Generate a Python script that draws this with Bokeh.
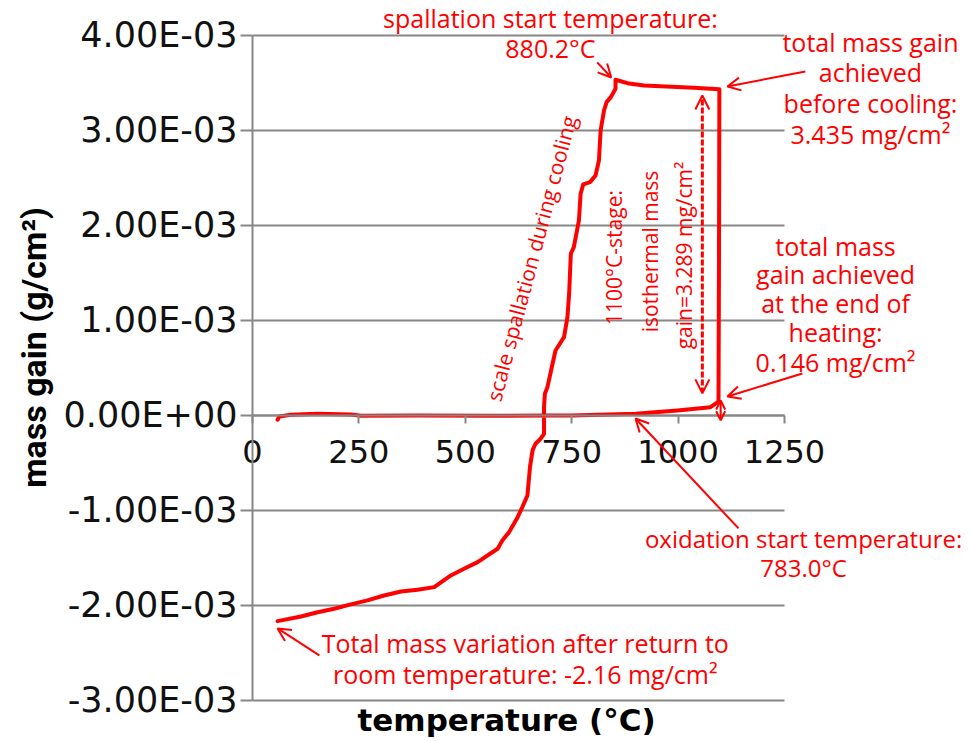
import math
from bokeh.plotting import figure
from bokeh.models import (Range1d, LinearAxis, FixedTicker, Label, Arrow, OpenHead,
                          CustomJSTickFormatter)
from bokeh.embed import file_html
from bokeh.resources import INLINE

# ---------------- data ----------------
temperature = [59, 63, 90, 153, 231, 255, 388, 544, 701, 750, 900, 998, 1076, 1095,
               1096, 1097,
               1037, 920, 881, 853,
               853, 842, 832, 826, 818, 814, 806, 793, 777, 771, 767, 755, 748, 744,
               740, 732, 712, 705, 693, 687, 685, 685, 677, 665, 658, 652, 646, 634,
               623, 603, 587, 576, 552, 529, 497, 466, 427, 388, 349, 309, 270, 231,
               192, 153, 114, 59]
mass_gain = [-0.045e-3, -0.011e-3, 0.007e-3, 0.018e-3, 0.011e-3, -0.003e-3, 0.0, -0.003e-3,
             0.0, 0.0, 0.018e-3, 0.053e-3, 0.087e-3, 0.146e-3,
             1.500e-3, 3.435e-3,
             3.449e-3, 3.474e-3, 3.498e-3, 3.534e-3,
             3.439e-3, 3.351e-3, 3.298e-3, 3.211e-3, 3.000e-3, 2.684e-3, 2.526e-3,
             2.456e-3, 2.432e-3, 2.334e-3, 2.053e-3, 1.772e-3, 1.702e-3, 1.281e-3,
             1.035e-3, 0.824e-3, 0.684e-3, 0.544e-3, 0.298e-3, 0.228e-3, 0.087e-3,
             -0.193e-3, -0.245e-3, -0.298e-3, -0.368e-3, -0.544e-3, -0.842e-3,
             -0.965e-3, -1.071e-3, -1.228e-3, -1.316e-3, -1.403e-3, -1.474e-3,
             -1.544e-3, -1.614e-3, -1.684e-3, -1.807e-3, -1.835e-3, -1.853e-3,
             -1.895e-3, -1.947e-3, -1.989e-3, -2.035e-3, -2.071e-3, -2.116e-3, -2.165e-3]

x_ticks = [0, 250, 500, 750, 1000, 1250]
x_tick_labels = ["0", "250", "500", "750", "1000", "1250"]
y_ticks = [-0.003, -0.002, -0.001, 0.0, 0.001, 0.002, 0.003, 0.004]
y_tick_labels = ["-3.00E-03", "-2.00E-03", "-1.00E-03", "0.00E+00",
                 "1.00E-03", "2.00E-03", "3.00E-03", "4.00E-03"]

RED = "#ff0000"
GRAY = "#878787"

# The frame fills the whole canvas so that the annotations around the chart are not clipped;
# the axes are pinned at x=0 and y=0 with fixed_location.
p = figure(width=971, height=741,
           x_range=Range1d(-592.1, 1689.4), y_range=Range1d(-3.432e-3, 4.368e-3),
           x_axis_location=None, y_axis_location=None, toolbar_location=None,
           title_location=None, output_backend="svg",
           min_border=0, min_border_left=0, min_border_right=0,
           min_border_top=0, min_border_bottom=0, outline_line_color=None,
           background_fill_color="white", border_fill_color="white")
for g in p.grid:
    g.visible = False

# horizontal gridlines over the data box
n = len(y_ticks)
p.segment(x0=[x_ticks[0]] * n, y0=y_ticks, x1=[x_ticks[-1]] * n, y1=y_ticks,
          line_color=GRAY, line_width=2)

fmt_code = """
for (let k = 0; k < vals.length; k++) {
  if (Math.abs(vals[k] - tick) < 1e-9) return labs[k];
}
return "";
"""

yaxis = LinearAxis(fixed_location=x_ticks[0], bounds=(y_ticks[0], y_ticks[-1]),
                   ticker=FixedTicker(ticks=y_ticks),
                   formatter=CustomJSTickFormatter(args=dict(vals=y_ticks, labs=y_tick_labels), code=fmt_code),
                   major_label_text_font="DejaVu Sans", major_label_text_font_size="35px",
                   major_label_text_color="#111111", major_label_standoff=3,
                   major_tick_out=12, major_tick_in=0, minor_tick_out=0, minor_tick_in=0,
                   axis_line_color=GRAY, axis_line_width=2,
                   major_tick_line_color=GRAY, major_tick_line_width=2)
p.add_layout(yaxis, "left")

xaxis = LinearAxis(fixed_location=0, bounds=(x_ticks[0], x_ticks[-1]),
                   ticker=FixedTicker(ticks=x_ticks),
                   formatter=CustomJSTickFormatter(args=dict(vals=x_ticks, labs=x_tick_labels), code=fmt_code),
                   major_label_text_font="DejaVu Sans", major_label_text_font_size="32px",
                   major_label_text_color="#111111", major_label_standoff=17,
                   major_tick_out=8, major_tick_in=0, minor_tick_out=0, minor_tick_in=0,
                   axis_line_color=GRAY, axis_line_width=2,
                   major_tick_line_color=GRAY, major_tick_line_width=2)
p.add_layout(xaxis, "below")

# ---------------- curve ----------------
p.line(temperature, mass_gain, line_color=RED, line_width=4, line_join="round", line_cap="round")

# ---------------- axis titles ----------------
p.add_layout(Label(x=-514, y=0.716e-3, text="mass gain (g/cm²)", text_font="Roboto",
                   text_font_style="bold", text_font_size="34px", text_color="black",
                   text_align="center", text_baseline="middle", angle=math.pi / 2))
p.add_layout(Label(x=597, y=-3.210e-3, text="temperature (°C)", text_font="DejaVu Sans",
                   text_font_style="bold", text_font_size="31px", text_color="black",
                   text_align="center", text_baseline="middle"))

# ---------------- annotations ----------------
FONT = "Open Sans"


def lab(x, y, text, size="25px", angle=0.0):
    p.add_layout(Label(x=x, y=y, text=text, text_color=RED, text_font=FONT,
                       text_font_size=size, text_align="center", text_baseline="middle",
                       angle=angle))


def arrow(x0, y0, x1, y1, both=False, dash="solid", width=2, size=13):
    start = OpenHead(size=size, line_color=RED, line_width=2) if both else None
    p.add_layout(Arrow(x_start=x0, y_start=y0, x_end=x1, y_end=y1,
                       start=start, end=OpenHead(size=size, line_color=RED, line_width=2),
                       line_color=RED, line_width=width, line_dash=dash))


# spallation start
lab(700, 4.179e-3, "spallation start temperature:")
lab(700, 3.863e-3, "880.2°C")
arrow(810, 3.716e-3, 843, 3.558e-3)

# total mass gain before cooling
for t, yy in zip(["total mass gain", "achieved", "before cooling:", "3.435 mg/cm²"],
                 [3.926e-3, 3.611e-3, 3.284e-3, 2.968e-3]):
    lab(1452, yy, t)
arrow(1299, 3.621e-3, 1116, 3.463e-3)

# total mass gain end of heating
for t, yy in zip(["total mass", "gain achieved", "at the end of", "heating:", "0.146 mg/cm²"],
                 [1.789e-3, 1.484e-3, 1.179e-3, 0.874e-3, 0.568e-3]):
    lab(1370, yy, t)
arrow(1292, 0.442e-3, 1116, 0.200e-3)

# oxidation start
lab(1295, -1.295e-3, "oxidation start temperature:", size="24px")
lab(1295, -1.600e-3, "783.0°C", size="24px")
arrow(1142, -1.189e-3, 900, -0.032e-3)

# final mass variation
lab(641, -2.400e-3, "Total mass variation after return to")
lab(641, -2.726e-3, "room temperature: -2.16 mg/cm²")
arrow(157, -2.526e-3, 59, -2.242e-3)

# rotated labels
lab(655, 1.653e-3, "scale spallation during cooling", size="21px", angle=math.radians(75))
lab(850, 1.663e-3, "1100°C-stage:", size="21px", angle=math.pi / 2)
lab(933, 1.726e-3, "isothermal mass", size="21px", angle=math.pi / 2)
lab(1013, 1.684e-3, "gain=3.289 mg/cm²", size="21px", angle=math.pi / 2)

# isothermal gain double arrow (dashed) and small heating-gain arrow
arrow(1057, 0.232e-3, 1057, 3.368e-3, both=True, dash="6 2", width=3, size=14)
arrow(1100, -0.050e-3, 1100, 0.158e-3, both=True, size=9)

open("out.html", "w").write(file_html(p, INLINE))
